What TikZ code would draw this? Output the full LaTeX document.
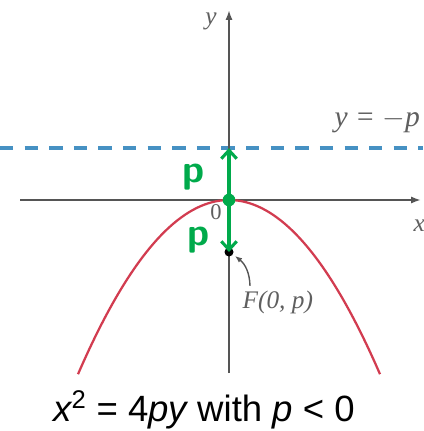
\documentclass[tikz,border=0pt]{standalone}
\usepackage{fontspec}
\usepackage{tikz}
\usetikzlibrary{arrows.meta,positioning,calc}
\newfontfamily\captfont{Liberation Sans}
\newfontfamily\labfont{Liberation Serif}
\definecolor{AxisGray}{RGB}{85,85,85}
\definecolor{LabelGray}{RGB}{95,95,95}
\definecolor{CurveRed}{RGB}{210,60,80}
\definecolor{DirBlue}{RGB}{70,145,195}
\definecolor{PenGreen}{RGB}{0,170,75}
\tikzset{
  axis/.style={draw=AxisGray,line width=1.3pt,-{Latex[length=7pt,width=5pt]}},
  curve/.style={draw=CurveRed,line width=1.6pt},
  directrix/.style={draw=DirBlue,line width=2.2pt,dash pattern=on 9.5pt off 8pt},
  pen/.style={draw=PenGreen,line width=2.2pt,-{Straight Barb[length=6pt,width=11pt]}},
  axlabel/.style={text=LabelGray,font=\labfont\itshape\fontsize{18}{20}\selectfont,inner sep=1pt},
  penlabel/.style={text=PenGreen,font=\sffamily\bfseries\fontsize{28}{30}\selectfont,inner sep=0pt},
  caption/.style={font=\captfont\fontsize{26}{30}\selectfont,inner sep=0pt}
}
\begin{document}
\begin{tikzpicture}[x=0.025cm,y=-0.025cm]
  \useasboundingbox (0,0) rectangle (423,431);
  % points on the axes
  \coordinate (O) at (229,200);
  \coordinate (F) at (229,252);
  \coordinate (D) at (229,148);
  % directrix
  \draw[directrix] (0,148) -- (423,148);
  \node[axlabel,anchor=south west,font=\labfont\itshape\fontsize{21}{23}\selectfont] (dirlab) at (333,135) {y = $-$p};
  % axes
  \draw[axis] (20,200) -- (421,200);
  \draw[axis] (229,373) -- (229,10);
  \node[axlabel] (ylab) at (211,21) {y};
  \node[axlabel,anchor=west] (xlab) at (412,226) {x};
  \node[axlabel,font=\labfont\fontsize{16}{18}\selectfont] (zero) at (216,212) {0};
  % parabola
  \draw[curve] plot[variable=\t,domain=-151:151,samples=80,smooth] ({229+\t},{200+0.764*(\t/10)*(\t/10)});
  % focus
  \fill[black] (F) circle (3.2pt);
  \node[axlabel,anchor=west] (flab) at (241,302) {F(0, p)};
  \draw[AxisGray,line width=1pt,-{Latex[length=5pt,width=4pt]}] (flab.north west) ++(9,-3)
    to[bend right=25] ($(F)+(6,4)$);
  % distances p
  \draw[pen] (O) -- (D);
  \draw[pen] (O) -- (F);
  \fill[PenGreen] (O) circle (4.5pt);
  \node[penlabel] (pup) at (194,177) {p};
  \node[penlabel] (pdown) at (199,240) {p};
  % equation
  \node[caption] (eq) at (204,410) {\itshape x\textsuperscript{\upshape 2} \upshape= 4\itshape py \upshape with \itshape p \upshape< 0};
\end{tikzpicture}
\end{document}
